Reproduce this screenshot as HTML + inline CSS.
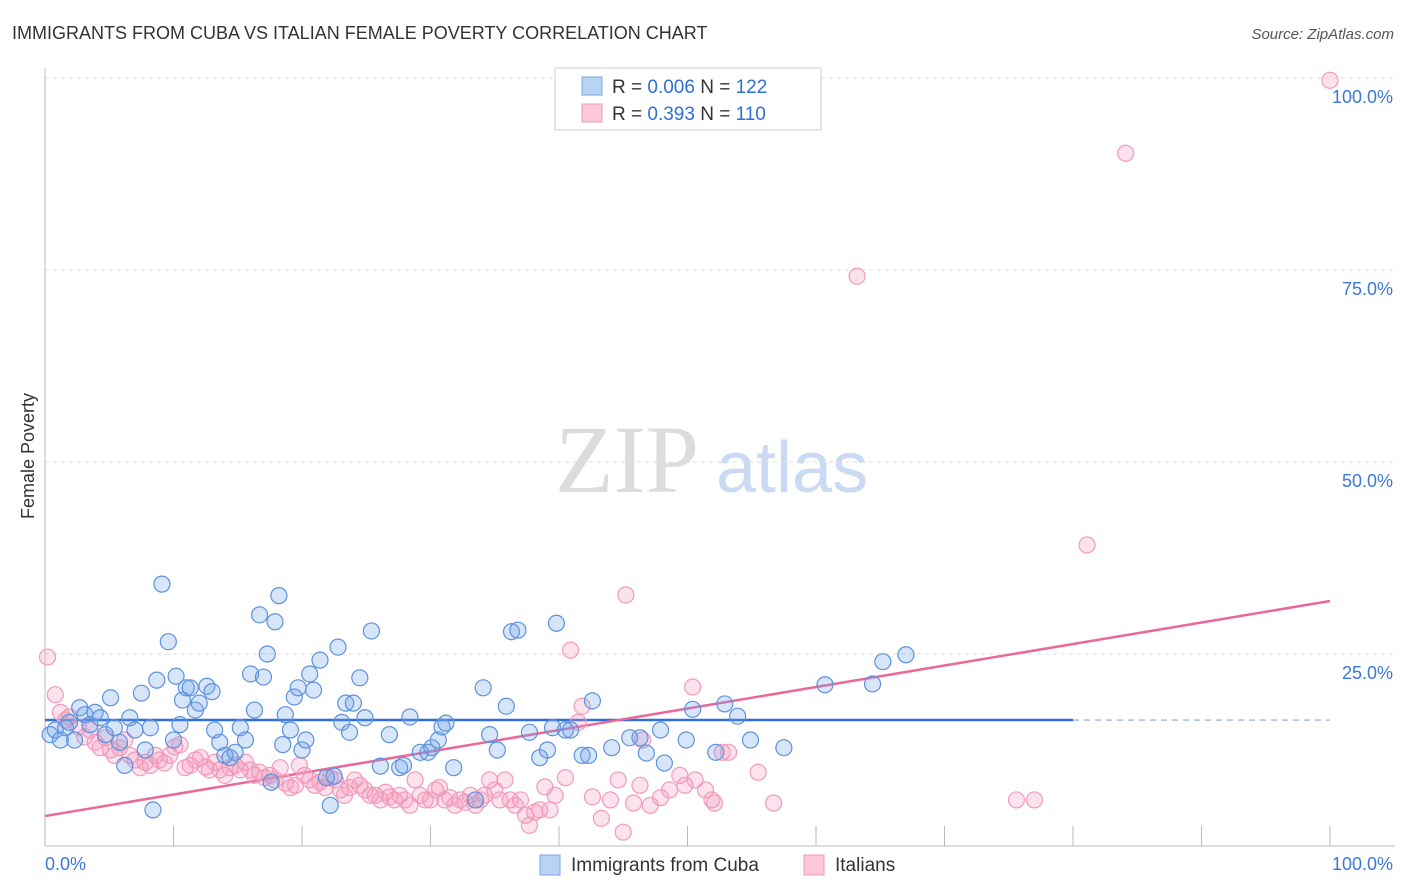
<!DOCTYPE html>
<html><head><meta charset="utf-8">
<style>
body{margin:0;background:#fff;font-family:"Liberation Sans",sans-serif;}
#wrap{position:relative;width:1406px;height:892px;overflow:hidden;}
svg{position:absolute;left:0;top:0;}
</style></head>
<body><div id="wrap">
<svg id="chart" width="1406" height="892">
<text x="12" y="39" font-size="18" fill="#333">IMMIGRANTS FROM CUBA VS ITALIAN FEMALE POVERTY CORRELATION CHART</text>
<text x="1394" y="39" font-size="15" fill="#555" font-style="italic" text-anchor="end">Source: ZipAtlas.com</text>
<text x="0" y="0" transform="translate(34,456) rotate(-90)" font-size="18" fill="#333" text-anchor="middle">Female Poverty</text>
<g>
<text x="555" y="492" font-family="Liberation Serif,serif" font-size="96" fill="#dcdcdc">ZIP</text>
<text x="716" y="492" font-size="72" fill="#c9daf2">atlas</text>
</g>
<g id="grid"></g><g id="axes"></g><g id="lines"></g><g id="pts"></g>
<g>
<rect x="555" y="68" width="266" height="62" fill="#fff" stroke="#ccc"/>
<rect x="582" y="77" width="20" height="18" fill="#b9d3f5" stroke="#7aa6e6"/>
<rect x="582" y="104" width="20" height="18" fill="#fac8d8" stroke="#f09ab8"/>
<text x="612" y="93" font-size="19" fill="#333">R = <tspan fill="#2f6fd6">0.006</tspan>   N = <tspan fill="#2f6fd6">122</tspan></text>
<text x="612" y="120" font-size="19" fill="#333">R =  <tspan fill="#2f6fd6">0.393</tspan>   N = <tspan fill="#2f6fd6">110</tspan></text>
</g>
<g>
<rect x="540" y="855" width="20" height="20" fill="#b9d3f5" stroke="#7aa6e6"/>
<text x="571" y="871" font-size="19" fill="#333">Immigrants from Cuba</text>
<rect x="804" y="855" width="20" height="20" fill="#fac8d8" stroke="#f09ab8"/>
<text x="835" y="871" font-size="19" fill="#333">Italians</text>
</g>
</svg>
<script>
const blueX=[0.4,0.8,1.2,1.6,1.9,2.3,2.7,3.1,3.5,3.9,4.3,4.7,5.1,5.4,5.8,6.2,6.6,7.0,7.5,7.8,8.2,8.4,8.7,9.1,9.6,10.0,10.2,10.5,10.7,11.0,11.3,11.7,12.0,12.6,13.0,13.2,13.6,14.0,14.4,14.8,15.2,15.6,16.0,16.3,16.7,17.0,17.3,17.6,17.9,18.2,18.5,18.7,19.1,19.4,19.7,20.0,20.3,20.6,20.9,21.4,21.9,22.2,22.5,22.8,23.1,23.4,23.7,24.0,24.5,24.9,25.4,26.1,26.8,27.6,27.9,28.4,29.2,29.8,30.1,30.6,30.9,31.2,31.8,33.5,34.1,34.6,35.2,35.9,36.3,36.8,37.7,38.5,39.1,39.5,39.8,40.5,40.9,41.8,42.3,42.6,44.1,45.5,46.3,46.8,47.9,48.2,49.9,50.4,52.2,52.9,53.9,54.9,57.5,60.7,64.4,65.2,67.0];
const blueY=[14.5,15.1,13.8,15.4,16.1,13.8,18.0,17.1,15.8,17.4,16.7,14.5,19.3,15.4,13.5,10.5,16.7,15.1,19.9,12.5,15.4,4.7,21.6,34.1,26.6,13.8,22.1,15.8,19.0,20.6,20.6,17.7,18.6,20.8,20.1,15.1,13.5,11.8,11.5,12.2,15.4,13.8,22.4,17.7,30.1,22.0,25.0,8.3,29.2,32.6,13.2,17.1,15.1,19.4,20.6,12.5,13.8,22.4,20.3,24.2,8.9,5.3,9.1,25.9,16.1,18.6,14.8,18.6,21.9,16.7,28.0,10.4,14.5,10.2,10.5,16.8,12.2,12.2,12.8,13.8,15.5,16.0,10.2,6.0,20.6,14.5,12.5,18.2,27.9,28.1,14.8,11.5,12.5,15.4,29.0,15.1,15.1,11.8,11.8,18.9,12.8,14.1,14.1,12.1,15.1,10.8,13.8,17.8,12.2,18.5,16.9,13.8,12.8,21.0,21.1,24.0,24.9];
const pinkX=[0.2,0.8,1.2,1.6,1.9,2.6,3.1,3.5,3.9,4.3,4.7,5.1,5.4,5.8,6.2,6.6,7.0,7.4,7.8,8.2,8.6,8.9,9.3,9.7,10.1,10.5,10.9,11.3,11.7,12.1,12.5,12.8,13.2,13.6,14.0,14.4,14.8,15.2,15.6,16.0,16.3,16.7,17.1,17.5,17.9,18.3,18.7,19.1,19.5,19.8,20.2,20.6,21.0,21.4,21.8,22.2,22.6,23.0,23.3,23.7,24.1,24.5,24.9,25.3,25.7,26.1,26.5,26.8,27.2,27.6,28.0,28.4,28.8,29.2,29.6,30.0,30.4,30.7,31.1,31.5,31.9,32.3,32.7,33.1,33.5,33.9,34.2,34.6,35.0,35.4,35.8,36.2,36.6,37.0,37.4,37.7,38.1,38.5,38.9,39.3,39.7,40.5,40.9,41.5,41.8,42.6,43.3,44.0,44.6,45.0,45.2,45.8,46.3,46.5,47.1,47.9,48.6,49.4,49.8,50.4,50.6,51.4,51.9,52.1,52.7,53.2,55.5,56.7,63.2,75.6,77.0,81.1,84.1,100.0];
const pinkY=[24.6,19.7,17.4,16.4,16.8,15.5,14.2,15.1,13.5,12.8,14.1,12.5,11.8,12.8,13.8,11.8,11.2,10.2,10.9,10.5,11.8,11.2,10.8,11.8,12.9,13.2,10.2,10.5,11.2,11.5,10.3,9.9,10.9,9.9,9.2,10.2,10.5,9.9,10.9,9.9,9.2,9.6,8.9,9.2,8.6,10.2,8.2,7.6,7.9,10.5,9.2,8.6,7.9,8.3,7.6,8.9,8.6,7.3,6.6,7.6,8.6,7.9,7.3,6.6,6.6,6.0,7.0,6.4,6.0,6.6,6.0,5.3,8.6,6.6,6.0,6.0,7.3,7.6,6.0,6.3,5.3,6.0,5.7,6.6,5.3,6.0,6.6,8.6,7.3,6.0,8.6,6.0,5.3,6.0,4.0,2.7,4.4,4.7,7.7,4.7,6.6,8.9,25.5,16.1,18.2,6.4,3.6,6.0,8.6,1.8,32.7,5.6,7.9,13.8,5.3,6.3,7.3,9.2,7.9,20.7,8.6,7.3,6.0,5.6,12.2,12.2,9.6,5.6,74.2,6.0,6.0,39.2,90.2,99.7];
const blueTrend=[16.4,16.4];
const pinkTrend=[3.9,31.9];
const yTicks=[25,50,75,100];
const yTickLabels=["25.0%","50.0%","75.0%","100.0%"];
const xTicks=[0,10,20,30,40,50,60,70,80,90,100];

const NS="http://www.w3.org/2000/svg";
function sx(v){return 45+v*12.85;}
function sy(v){return 846-v*7.68;}
function mk(parent,tag,attrs){const e=document.createElementNS(NS,tag);for(const k in attrs)e.setAttribute(k,attrs[k]);document.getElementById(parent).appendChild(e);return e;}

yTicks.forEach((t,i)=>{
  const l=mk('grid','line',{x1:45,x2:1395,y1:sy(t),y2:sy(t),stroke:'#ddd','stroke-dasharray':'4,4'});
  
  
  const tx=mk('grid','text',{x:1393,y:sy(t)+25,'font-size':18,fill:'#3a78d8','text-anchor':'end'});
  tx.textContent=yTickLabels[i];
  
  
});
const ya=mk('axes','line',{x1:45,x2:45,y1:68,y2:846,stroke:'#bbb'});


const xa=mk('axes','line',{x1:45,x2:1395,y1:846,y2:846,stroke:'#bbb'});


xTicks.forEach(t=>{
  const l=mk('axes','line',{x1:sx(t),x2:sx(t),y1:826,y2:846,stroke:'#bbb'});
  
  
});
const xl0=mk('axes','text',{x:45,y:870,'font-size':18,fill:'#3a78d8'});
xl0.textContent='0.0%';


const xl1=mk('axes','text',{x:1393,y:870,'font-size':18,fill:'#3a78d8','text-anchor':'end'});
xl1.textContent='100.0%';



function drawPts(X,Y,fill,stroke,name){
  X.forEach((x,i)=>{
    const c=mk('pts','circle',{cx:sx(x),cy:sy(Y[i]),r:8,fill:fill,stroke:stroke,'stroke-width':1.2});
    
    
  });
}
drawPts(pinkX,pinkY,'rgba(245,150,185,0.28)','#f29ab9','italians-point');
drawPts(blueX,blueY,'rgba(110,160,235,0.28)','#5d92dc','cuba-point');

const bl=mk('lines','line',{x1:sx(0),x2:sx(80),y1:sy(blueTrend[0]),y2:sy(blueTrend[0]+(blueTrend[1]-blueTrend[0])*0.8),stroke:'#2f6fd6','stroke-width':2.5});


const bd=mk('lines','line',{x1:sx(80),x2:sx(100),y1:sy(blueTrend[0]+(blueTrend[1]-blueTrend[0])*0.8),y2:sy(blueTrend[1]),stroke:'#8aa8cc','stroke-width':1.2,'stroke-dasharray':'6,5'});


const pl=mk('lines','line',{x1:sx(0),x2:sx(100),y1:sy(pinkTrend[0]),y2:sy(pinkTrend[1]),stroke:'#e8699a','stroke-width':2.5});


</script>
</div></body></html>
